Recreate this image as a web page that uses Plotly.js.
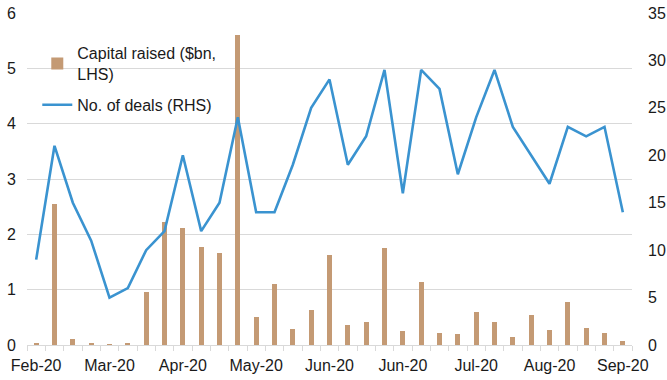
<!DOCTYPE html>
<html>
<head>
<meta charset="utf-8">
<script src="https://cdn.plot.ly/plotly-3.0.1.min.js"></script>
<style>html,body{margin:0;padding:0;background:#fff;}#chart{width:667px;height:380px;}</style>
</head>
<body>
<div id="chart"></div>
<script>
// Weekly periods (33 weeks, Feb-20 to Sep-20)
var weeks = ["W01","W02","W03","W04","W05","W06","W07","W08","W09","W10","W11","W12","W13","W14","W15","W16","W17","W18","W19","W20","W21","W22","W23","W24","W25","W26","W27","W28","W29","W30","W31","W32","W33"];
// Axis labels shown every 4th week
var weekLabels = ["Feb-20","","","","Mar-20","","","","Apr-20","","","","May-20","","","","Jun-20","","","","Jun-20","","","","Jul-20","","","","Aug-20","","","","Sep-20"];
// Capital raised ($bn, LHS)
var capitalRaised = [0.04,2.54,0.11,0.04,0.02,0.04,0.95,2.23,2.11,1.77,1.66,5.6,0.5,1.11,0.29,0.64,1.62,0.36,0.41,1.75,0.26,1.13,0.21,0.2,0.59,0.41,0.15,0.54,0.28,0.77,0.3,0.22,0.08];
// No. of deals (RHS)
var numDeals = [9,21,15,11,5,6,10,12,20,12,15,24,14,14,19,25,28,19,22,29,16,29,27,18,24,29,23,20,17,23,22,23,14];

var font = "Liberation Sans, Arial, sans-serif";

var traces = [
  {
    type: "bar",
    name: "Capital raised ($bn,<br>LHS)",
    legendgroup: "cap",
    x: weeks,
    y: capitalRaised,
    width: 0.28,
    marker: {color: "#c49a74"},
    yaxis: "y"
  },
  {
    type: "scatter",
    mode: "lines",
    name: "No. of deals (RHS)",
    legendgroup: "deals",
    x: weeks,
    y: numDeals,
    line: {color: "#3a93d0", width: 2.6},
    yaxis: "y2"
  }
];

var layout = {
  width: 667,
  height: 380,
  margin: {l: 27, r: 35, t: 13, b: 35},
  paper_bgcolor: "#fff",
  plot_bgcolor: "#fff",
  font: {family: font, size: 16, color: "#1a1a1a"},
  showlegend: true,
  legend: {
    x: 0.017, y: 0.93, xanchor: "left", yanchor: "top",
    bgcolor: "rgba(0,0,0,0)",
    font: {family: font, size: 16, color: "#1a1a1a"},
    traceorder: "grouped",
    tracegroupgap: 7
  },
  xaxis: {
    type: "category",
    tickmode: "array",
    tickvals: weeks,
    ticktext: weekLabels,
    tickson: "boundaries",
    ticks: "outside",
    ticklen: 5,
    tickcolor: "#d9d9d9",
    ticklabelstandoff: 6,
    showline: true,
    linecolor: "#d9d9d9",
    linewidth: 1,
    showgrid: false,
    zeroline: false,
    tickangle: 0,
    tickfont: {family: font, size: 16, color: "#1a1a1a"}
  },
  yaxis: {
    range: [0, 6],
    tickvals: [0,1,2,3,4,5,6],
    showgrid: true,
    gridcolor: "#d9d9d9",
    gridwidth: 1,
    zeroline: false,
    showline: false,
    ticks: "",
    ticklabelstandoff: 10,
    tickfont: {family: font, size: 16, color: "#1a1a1a"}
  },
  yaxis2: {
    overlaying: "y",
    side: "right",
    range: [0, 35],
    tickvals: [0,5,10,15,20,25,30,35],
    showgrid: false,
    zeroline: false,
    showline: false,
    ticks: "",
    ticklabelstandoff: 15,
    tickfont: {family: font, size: 16, color: "#1a1a1a"}
  },
  bargap: 0
};

Plotly.newPlot("chart", traces, layout, {staticPlot: true, displayModeBar: false});
</script>
</body>
</html>
